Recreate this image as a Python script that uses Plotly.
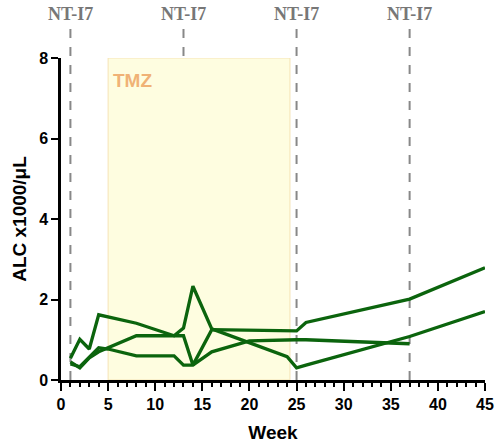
import plotly.graph_objects as go

# Data
p1_weeks = [1, 2, 3, 4, 8, 12, 13, 14, 16, 24, 25, 26, 37, 45]
p1_alc = [0.54, 1.01, 0.77, 1.62, 1.41, 1.10, 1.29, 2.33, 1.27, 0.58, 0.30, 0.37, 1.08, 1.70]

p2_weeks = [1, 2, 3, 4, 8, 13, 14, 16, 25, 26, 37, 45]
p2_alc = [0.45, 0.30, 0.55, 0.70, 1.10, 1.10, 0.37, 1.25, 1.22, 1.43, 2.01, 2.79]

p3_weeks = [1, 2, 4, 5, 8, 12, 13, 14, 16, 20, 25, 26, 37]
p3_alc = [0.40, 0.33, 0.80, 0.77, 0.60, 0.60, 0.37, 0.37, 0.70, 0.97, 1.00, 1.00, 0.90]

nt_weeks = [1, 13, 25, 37]
nt_label = "NT-I7"
tmz_start, tmz_end = 5, 24.3
tmz_label = "TMZ"

GREEN = "#0b640d"
fig = go.Figure()
for w, v in [(p1_weeks, p1_alc), (p2_weeks, p2_alc), (p3_weeks, p3_alc)]:
    fig.add_trace(go.Scatter(x=w, y=v, mode="lines",
                             line=dict(color=GREEN, width=3.3), showlegend=False))

shapes = [dict(type="rect", xref="x", yref="y", x0=tmz_start, x1=tmz_end, y0=0, y1=8,
               fillcolor="#fefde0", line=dict(color="#f5e3b5", width=1), layer="below")]
for w in nt_weeks:
    shapes.append(dict(type="line", xref="x", yref="paper", x0=w, x1=w, y0=0, y1=1.093,
                       line=dict(color="#888888", width=2, dash="dash"), layer="below"))

annotations = [dict(x=w, y=1.137, xref="x", yref="paper", text=nt_label, showarrow=False,
                    yanchor="middle",
                    font=dict(family="Liberation Serif", size=18, color="#777777", weight="bold"))
               for w in nt_weeks]
annotations.append(dict(x=tmz_start + 0.3, y=7.45, xref="x", yref="y", text=tmz_label,
                        showarrow=False, xanchor="left",
                        font=dict(family="Liberation Sans", size=19, color="#f0b276", weight="bold")))

fig.update_layout(
    width=495, height=448,
    margin=dict(l=61, r=10, t=58, b=68),
    plot_bgcolor="white", paper_bgcolor="white",
    shapes=shapes, annotations=annotations,
    xaxis=dict(range=[0, 45], tickvals=list(range(0, 46, 5)), showgrid=False, zeroline=False,
               showline=True, linecolor="black", linewidth=2.5, automargin=False,
               ticks="outside", ticklen=8, tickwidth=2, tickcolor="black",
               ticklabeloverflow="allow",
               minor=dict(ticks="outside", ticklen=4, tickwidth=1.5, tickcolor="black", dtick=1),
               tickfont=dict(family="Liberation Sans", size=16, color="black", weight="bold"),
               title=dict(text="Week", font=dict(family="Liberation Sans", size=19, color="black", weight="bold"), standoff=14)),
    yaxis=dict(range=[0, 8], tickvals=[0, 2, 4, 6, 8], showgrid=False, zeroline=False,
               showline=True, linecolor="black", linewidth=2.5, automargin=False,
               ticks="outside", ticklen=7, tickwidth=2, tickcolor="black",
               tickfont=dict(family="Liberation Sans", size=16, color="black", weight="bold"),
               title=dict(text="ALC x1000/μL", font=dict(family="Liberation Sans", size=19, color="black", weight="bold"), standoff=8)),
)
fig.write_html("out.html")
